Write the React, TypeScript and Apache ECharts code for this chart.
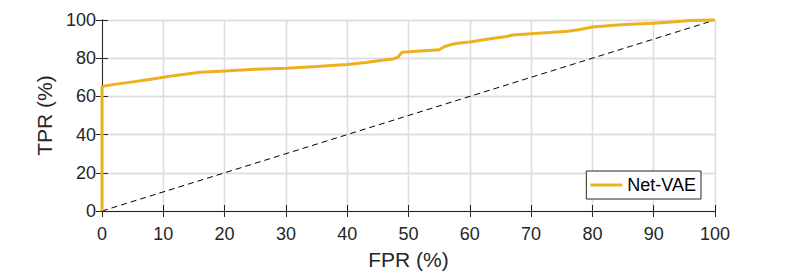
import React, { useEffect, useRef } from "react";
import * as echarts from "echarts";

const seriesName = "Net-VAE";
const fpr = [0, 0, 0.5, 2, 5, 8, 10, 12, 16, 20, 25, 30, 35, 40, 43, 46, 47.5, 48.3, 48.9, 49.5, 52, 55, 55.8, 56.8, 58, 60, 63, 66, 67, 70, 73, 76, 78, 80, 84, 87, 90, 93, 96, 100];
const tpr = [0, 65, 65.5, 66.3, 67.6, 69, 70, 71, 72.6, 73.3, 74.2, 74.8, 75.6, 76.7, 77.7, 79, 79.6, 80.6, 83, 83.3, 83.8, 84.4, 86, 87, 87.8, 88.5, 90, 91.4, 92.1, 92.8, 93.4, 94.1, 95, 96.3, 97.4, 97.9, 98.3, 99, 99.7, 100];
const diagX = [0, 100];
const diagY = [0, 100];
const xTicks = { min: 0, max: 100, interval: 10 };
const yTicks = { min: 0, max: 100, interval: 20 };

const AX = "#262626";
const FONT = "Liberation Sans";
const GRID = "#dedede";

export default function App() {
  const ref = useRef<HTMLDivElement>(null);
  useEffect(() => {
    if (!ref.current) return;
    const chart = echarts.init(ref.current, undefined, { renderer: "svg" });
    const axisCommon = {
      axisLine: { show: true, lineStyle: { color: AX, width: 1 } },
      axisTick: { show: true, inside: true, length: 6, lineStyle: { color: AX, width: 1 } },
      splitLine: { show: true, lineStyle: { color: GRID, width: 1.3, type: "solid" } },
    };
    chart.setOption({
      animation: false,
      backgroundColor: "#fff",
      grid: { left: 102, top: 20, right: 74, bottom: 63, containLabel: false },
      legend: {
        data: [{ name: seriesName, icon: "rect" }],
        right: 88,
        top: 171,
        orient: "vertical",
        backgroundColor: "#fff",
        borderColor: AX,
        borderWidth: 1,
        borderRadius: 0,
        padding: [5, 5, 5, 4],
        itemWidth: 32,
        itemHeight: 3,
        itemStyle: { color: "#EDB120", borderWidth: 0 },
        textStyle: { fontFamily: FONT, fontSize: 18, color: "#000" },
      },
      xAxis: [
        {
          type: "value",
          ...xTicks,
          position: "bottom",
          ...axisCommon,
          axisLabel: { fontFamily: FONT, fontSize: 18, color: AX, margin: 14 },
          name: "FPR (%)",
          nameLocation: "middle",
          nameGap: 38,
          nameTextStyle: { fontFamily: FONT, fontSize: 21, color: AX },
        },
        {
          type: "value",
          ...xTicks,
          position: "top",
          ...axisCommon,
          axisLabel: { show: false },
        },
      ],
      yAxis: [
        {
          type: "value",
          ...yTicks,
          position: "left",
          ...axisCommon,
          axisLabel: { fontFamily: FONT, fontSize: 18, color: AX, margin: 6 },
          name: "TPR (%)",
          nameLocation: "middle",
          nameGap: 47,
          nameTextStyle: { fontFamily: FONT, fontSize: 21, color: AX },
        },
        {
          type: "value",
          ...yTicks,
          position: "right",
          ...axisCommon,
          axisLabel: { show: false },
        },
      ],
      series: [
        {
          name: "diag",
          type: "line",
          xAxisIndex: 0,
          yAxisIndex: 0,
          data: diagX.map((x, i) => [x, diagY[i]]),
          symbol: "none",
          lineStyle: { color: "#000", width: 1, type: [6, 4] },
          z: 2,
          silent: true,
        },
        {
          name: seriesName,
          type: "line",
          xAxisIndex: 0,
          yAxisIndex: 0,
          data: fpr.map((x, i) => [x, tpr[i]]),
          symbol: "none",
          color: "#EDB120",
          lineStyle: { color: "#EDB120", width: 3 },
          clip: false,
          z: 3,
        },
      ],
    });
    return () => chart.dispose();
  }, []);
  return (
    <div
      ref={ref}
      style={{ position: "fixed", left: 0, top: 0, width: 789, height: 275, background: "#fff" }}
    />
  );
}
